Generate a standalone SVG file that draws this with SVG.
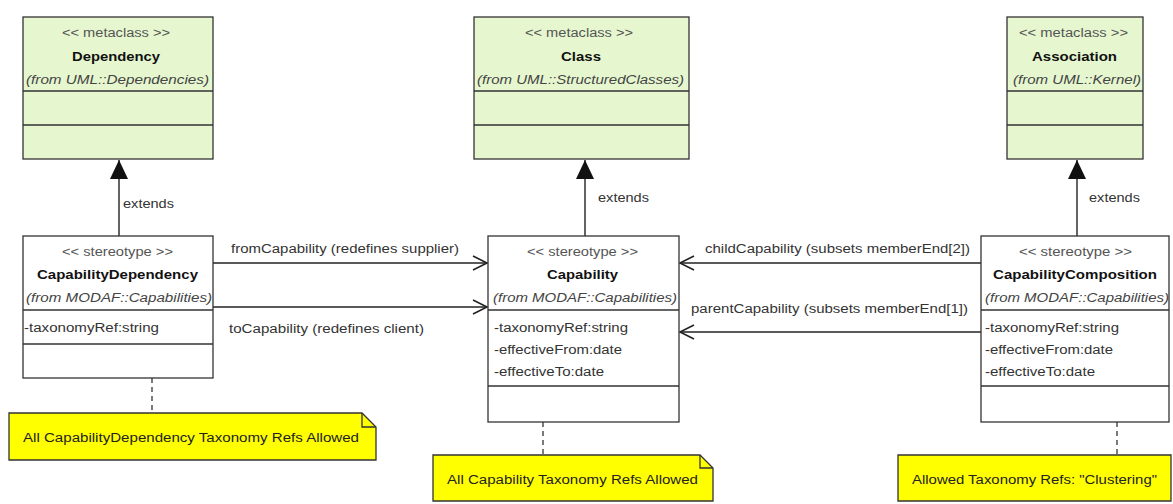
<svg xmlns="http://www.w3.org/2000/svg" width="1173" height="504" viewBox="0 0 1173 504">
<defs>
<style>
text{font-family:"Liberation Sans",Arial,sans-serif;}
.box{stroke:#333;stroke-width:1.3;}
.meta{fill:#e6f7cf;}
.stereo{fill:#fff;}
.div{stroke:#333;stroke-width:1.3;fill:none;}
.st{font-size:12px;fill:#555;text-anchor:start;}
.nm{font-size:13px;font-weight:bold;fill:#111;}
.fr{font-size:12px;font-style:italic;fill:#444;}
.at{font-size:12px;fill:#333;}
.lb{font-size:12.5px;fill:#333;}
.conn{stroke:#222;stroke-width:1.4;fill:none;}
.dash{stroke:#333;stroke-width:1.3;stroke-dasharray:5,4;fill:none;}
.note{fill:#ffff00;stroke:#333;stroke-width:1.3;}
.nt{font-size:12.5px;fill:#222;}
</style>
<marker id="tri" markerUnits="userSpaceOnUse" markerWidth="20" markerHeight="20" viewBox="-20 -10 20 20" refX="0" refY="0" orient="auto">
<path d="M0,0 L-19,-9 L-19,9 Z" fill="#111"/>
</marker>
<marker id="open" markerUnits="userSpaceOnUse" markerWidth="18" markerHeight="18" viewBox="-16 -9 18 18" refX="0" refY="0" orient="auto">
<path d="M-14,-7 L0,0 L-14,7" fill="none" stroke="#222" stroke-width="1.6"/>
</marker>
</defs>
<rect width="1173" height="504" fill="#fff"/>

<g id="connectors">
<path class="conn" d="M119,236 L119,160" marker-end="url(#tri)"/>
<path class="conn" d="M585,236 L585,160" marker-end="url(#tri)"/>
<path class="conn" d="M1077,236 L1077,160" marker-end="url(#tri)"/>
<text class="lb" x="123" y="208" textLength="51" lengthAdjust="spacingAndGlyphs">extends</text>
<text class="lb" x="598" y="202" textLength="51" lengthAdjust="spacingAndGlyphs">extends</text>
<text class="lb" x="1089" y="202" textLength="51" lengthAdjust="spacingAndGlyphs">extends</text>
<path class="conn" d="M213,263 L487,263" marker-end="url(#open)"/>
<path class="conn" d="M213,307 L487,307" marker-end="url(#open)"/>
<path class="conn" d="M981,263 L680,263" marker-end="url(#open)"/>
<path class="conn" d="M981,332 L680,332" marker-end="url(#open)"/>
<text class="lb" x="231" y="253" textLength="228" lengthAdjust="spacingAndGlyphs">fromCapability (redefines supplier)</text>
<text class="lb" x="229" y="333" textLength="195" lengthAdjust="spacingAndGlyphs">toCapability (redefines client)</text>
<text class="lb" x="705" y="253" textLength="265" lengthAdjust="spacingAndGlyphs">childCapability (subsets memberEnd[2])</text>
<text class="lb" x="691" y="313" textLength="277" lengthAdjust="spacingAndGlyphs">parentCapability (subsets memberEnd[1])</text>
<path class="dash" d="M152,378 L152,413"/>
<path class="dash" d="M543,422 L543,455"/>
<path class="dash" d="M1117,422 L1117,455"/>
</g>

<g id="Dependency">
<rect class="box meta" x="23" y="17" width="190" height="142"/>
<path class="div" d="M23,91 H213 M23,125 H213"/>
<text class="st" x="62" y="37" textLength="108" lengthAdjust="spacingAndGlyphs">&lt;&lt; metaclass &gt;&gt;</text>
<text class="nm" x="72" y="61" textLength="88" lengthAdjust="spacingAndGlyphs">Dependency</text>
<text class="fr" x="26" y="84" textLength="183" lengthAdjust="spacingAndGlyphs">(from UML::Dependencies)</text>
</g>

<g id="Class">
<rect class="box meta" x="474" y="17" width="215" height="142"/>
<path class="div" d="M474,91 H689 M474,125 H689"/>
<text class="st" x="525" y="37" textLength="108" lengthAdjust="spacingAndGlyphs">&lt;&lt; metaclass &gt;&gt;</text>
<text class="nm" x="561" y="61" textLength="40" lengthAdjust="spacingAndGlyphs">Class</text>
<text class="fr" x="477" y="84" textLength="207" lengthAdjust="spacingAndGlyphs">(from UML::StructuredClasses)</text>
</g>

<g id="Association">
<rect class="box meta" x="1007" y="17" width="136" height="142"/>
<path class="div" d="M1007,91 H1143 M1007,125 H1143"/>
<text class="st" x="1019" y="37" textLength="109" lengthAdjust="spacingAndGlyphs">&lt;&lt; metaclass &gt;&gt;</text>
<text class="nm" x="1032" y="61" textLength="85" lengthAdjust="spacingAndGlyphs">Association</text>
<text class="fr" x="1013" y="84" textLength="128" lengthAdjust="spacingAndGlyphs">(from UML::Kernel)</text>
</g>

<g id="CapabilityDependency">
<rect class="box stereo" x="23" y="236" width="190" height="142"/>
<path class="div" d="M23,310 H213 M23,344 H213"/>
<text class="st" x="62" y="256" textLength="111" lengthAdjust="spacingAndGlyphs">&lt;&lt; stereotype &gt;&gt;</text>
<text class="nm" x="37" y="279" textLength="161" lengthAdjust="spacingAndGlyphs">CapabilityDependency</text>
<text class="fr" x="26" y="302" textLength="186" lengthAdjust="spacingAndGlyphs">(from MODAF::Capabilities)</text>
<text class="at" x="24" y="332" textLength="135" lengthAdjust="spacingAndGlyphs">-taxonomyRef:string</text>
</g>

<g id="Capability">
<rect class="box stereo" x="488" y="236" width="191" height="186"/>
<path class="div" d="M488,310 H679 M488,386 H679"/>
<text class="st" x="527" y="256" textLength="111" lengthAdjust="spacingAndGlyphs">&lt;&lt; stereotype &gt;&gt;</text>
<text class="nm" x="547" y="279" textLength="71" lengthAdjust="spacingAndGlyphs">Capability</text>
<text class="fr" x="493" y="302" textLength="184" lengthAdjust="spacingAndGlyphs">(from MODAF::Capabilities)</text>
<text class="at" x="494" y="332" textLength="134" lengthAdjust="spacingAndGlyphs">-taxonomyRef:string</text>
<text class="at" x="494" y="354" textLength="128" lengthAdjust="spacingAndGlyphs">-effectiveFrom:date</text>
<text class="at" x="494" y="376" textLength="110" lengthAdjust="spacingAndGlyphs">-effectiveTo:date</text>
</g>

<g id="CapabilityComposition">
<rect class="box stereo" x="981" y="236" width="188" height="186"/>
<path class="div" d="M981,310 H1169 M981,386 H1169"/>
<text class="st" x="1019" y="256" textLength="113" lengthAdjust="spacingAndGlyphs">&lt;&lt; stereotype &gt;&gt;</text>
<text class="nm" x="993" y="279" textLength="164" lengthAdjust="spacingAndGlyphs">CapabilityComposition</text>
<text class="fr" x="985" y="302" textLength="184" lengthAdjust="spacingAndGlyphs">(from MODAF::Capabilities)</text>
<text class="at" x="985" y="332" textLength="134" lengthAdjust="spacingAndGlyphs">-taxonomyRef:string</text>
<text class="at" x="985" y="354" textLength="128" lengthAdjust="spacingAndGlyphs">-effectiveFrom:date</text>
<text class="at" x="985" y="376" textLength="110" lengthAdjust="spacingAndGlyphs">-effectiveTo:date</text>
</g>

<g id="note-dependency">
<path class="note" d="M9,413 H362 L376,427 V460 H9 Z"/>
<path class="div" d="M362,413 V427 H376"/>
<text class="nt" x="23" y="442" textLength="336" lengthAdjust="spacingAndGlyphs">All CapabilityDependency Taxonomy Refs Allowed</text>
</g>

<g id="note-capability">
<path class="note" d="M433,455 H700 L713,468 V501 H433 Z"/>
<path class="div" d="M700,455 V468 H713"/>
<text class="nt" x="447" y="484" textLength="251" lengthAdjust="spacingAndGlyphs">All Capability Taxonomy Refs Allowed</text>
</g>

<g id="note-composition">
<path class="note" d="M898,455 H1171 V501 H898 Z"/>
<text class="nt" x="912" y="484" textLength="245" lengthAdjust="spacingAndGlyphs">Allowed Taxonomy Refs: "Clustering"</text>
</g>
</svg>
